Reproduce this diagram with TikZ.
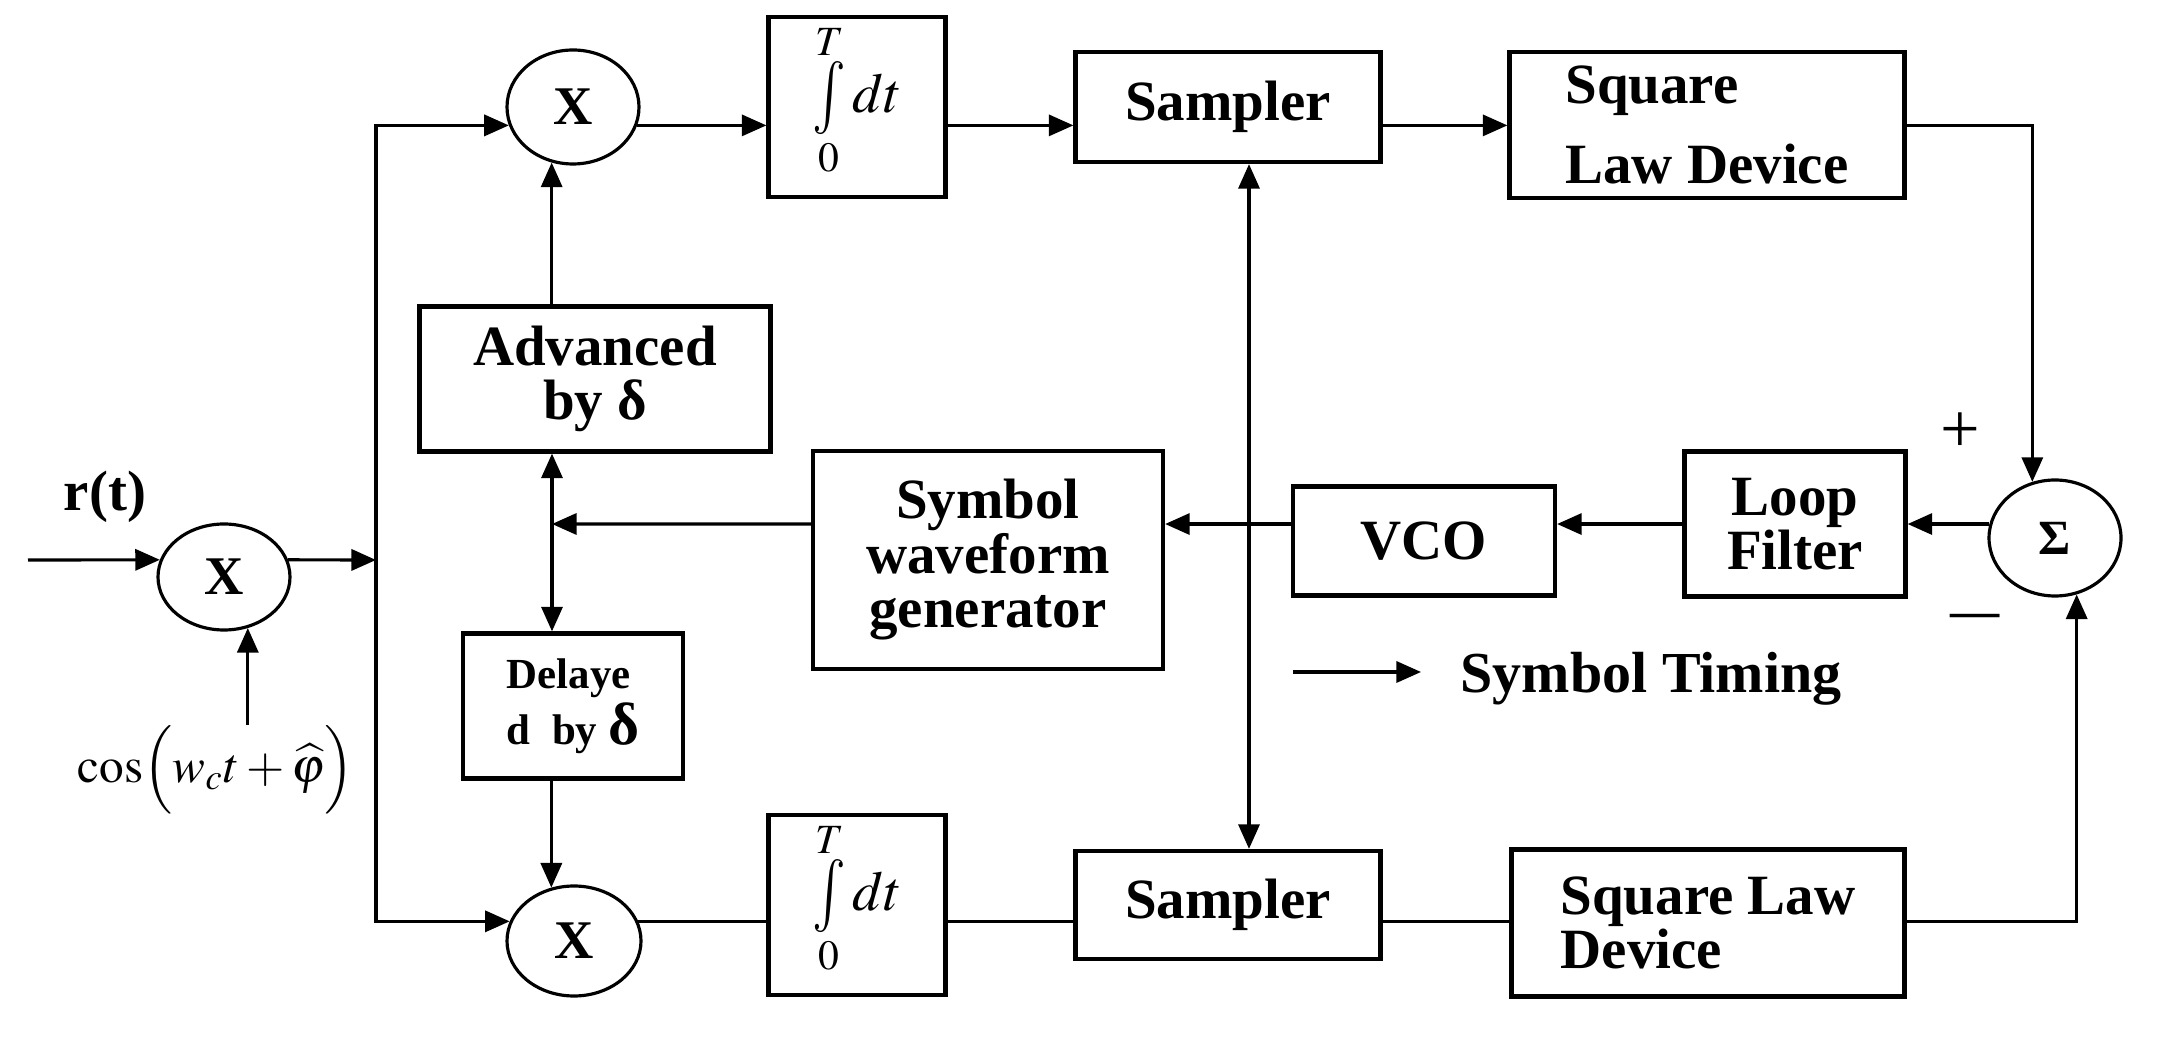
\documentclass[tikz,border=0pt]{standalone}
\usepackage{mathptmx}
\usepackage{fontspec}
\setmainfont{Liberation Serif}
\usepackage{tikz}
\usetikzlibrary{arrows.meta,positioning,shapes.geometric}
\newcommand{\tint}{\mathop{\vcenter{\hbox{\scalebox{1}[1.3]{$\int$}}}}\limits_{\raisebox{4pt}{$\scriptstyle 0$}}^{\raisebox{-6.5pt}{$\scriptstyle T$}} dt}

\begin{document}
\begin{tikzpicture}[x=0.1mm,y=-0.1mm,>={Triangle[length=7pt,width=6pt]},
  every node/.style={font=\bfseries\fontsize{16.2}{15.5}\selectfont,align=center,inner sep=0pt},
  blk/.style={draw,line width=1.2pt},
  mul/.style={draw,ellipse,line width=0.9pt,font=\bfseries\fontsize{15.5}{15}\selectfont},
  wire/.style={line width=0.9pt}]
\useasboundingbox (0,0) rectangle (2163,1045);
\node[mul,minimum width=13.2mm,minimum height=10.6mm] (mx0) at (224,577) {X};
\node[mul,minimum width=13.2mm,minimum height=11.4mm] (mx1) at (573,107) {X};
\node[mul,minimum width=13.4mm,minimum height=11mm] (mx2) at (574,941) {X};
\node[mul,minimum width=13.2mm,minimum height=11.6mm,font=\bfseries\fontsize{14}{14}\selectfont] (sum) at (2055,538) {Σ};
\node[blk,minimum width=17.7mm,minimum height=18mm,font=\fontsize{16}{16}\selectfont] (int1) at (857,107) {$\tint$};
\node[blk,minimum width=17.7mm,minimum height=18mm,font=\fontsize{16}{16}\selectfont] (int2) at (857,905) {$\tint$};
\node[blk,minimum width=30.5mm,minimum height=11mm] (smp1) at (1228,107) {Sampler};
\node[blk,minimum width=30.5mm,minimum height=10.8mm] (smp2) at (1228,905) {Sampler};
\node[blk,minimum width=39.5mm,minimum height=14.6mm,align=left] (sq1) at (1707,125) {Square\\[7.3pt]Law Device};
\node[blk,minimum width=39.3mm,minimum height=14.7mm,align=left] (sq2) at (1708,923) {Square Law\\Device};
\node[blk,minimum width=35.1mm,minimum height=14.5mm] (adv) at (595,379) {Advanced\\by δ};
\node[blk,minimum width=22mm,minimum height=14.5mm,align=left,font=\bfseries\fontsize{12.2}{16}\selectfont] (dly) at (573,706) {Delaye\\d~~by {\fontsize{17}{16}\selectfont δ}};
\node[blk,minimum width=35mm,minimum height=21.8mm] (swg) at (988,560) {Symbol\\waveform\\generator};
\node[blk,minimum width=26.2mm,minimum height=10.9mm] (vco) at (1424,541) {VCO};
\node[blk,minimum width=22.1mm,minimum height=14.5mm] (lf) at (1795,524) {Loop\\Filter};
\node (rt) at (105,497) {r(t)};
\node[font=\fontsize{14}{14}\selectfont] (cs) at (216,770) {$\cos\Bigl(w_c t+\widehat{\varphi}\Bigr)$};
\node[font=\fontsize{20}{20}\selectfont] (pl) at (1960,433) {+};
\node[font=\bfseries\fontsize{14}{14}\selectfont] (mn) at (1975,621) {—};
\node[font=\bfseries\fontsize{16.5}{16}\selectfont] (tl) at (1651,679) {Symbol Timing};
\coordinate (in) at (28,560);
\coordinate (b0) at (376,560);
\coordinate (dl) at (552,524);
\coordinate (tx) at (1249,524);
\coordinate (ts0) at (1293,672);
\coordinate (ts1) at (1421,672);
\draw[wire,->] (in) -- (mx0.165);
\draw[wire,->] (mx0.15) -- (b0);
\draw[wire,->] (b0) |- (mx1.196);
\draw[wire,->] (b0) |- (mx2.163);
\draw[wire,->] (cs.north -| mx0.295) -- (mx0.295);
\draw[wire,->] (mx1.344) -- (mx1.344 -| int1.west);
\draw[wire,->] (int1.east |- mx1.344) -- (smp1.west |- mx1.344);
\draw[wire,->] (smp1.east |- mx1.344) -- (sq1.west |- mx1.344);
\draw[wire,->] (sq1.east |- mx1.344) -| (sum.112);
\draw[wire] (mx2.17) -- (mx2.17 -| int2.west);
\draw[wire] (int2.east |- mx2.17) -- (smp2.west |- mx2.17);
\draw[wire] (smp2.east |- mx2.17) -- (sq2.west |- mx2.17);
\draw[wire,->] (sq2.east |- mx2.17) -| (sum.291);
\draw[wire,->] (sum.168) -- (sum.168 -| lf.east);
\draw[wire,->] (lf.west |- sum.168) -- (vco.east |- sum.168);
\draw[wire,->] (vco.west |- sum.168) -- (swg.east |- sum.168);
\draw[wire,->] (swg.west |- sum.168) -- (dl);
\draw[wire,<->] (adv.south -| dl) -- (dly.north -| dl);
\draw[wire,->] (adv.north -| mx1.249) -- (mx1.249);
\draw[wire,->] (dly.south -| mx2.113) -- (mx2.113);
\draw[wire,<->] (smp1.south -| tx) -- (smp2.north -| tx);
\draw[wire,->] (ts0) -- (ts1);
\end{tikzpicture}
\end{document}
